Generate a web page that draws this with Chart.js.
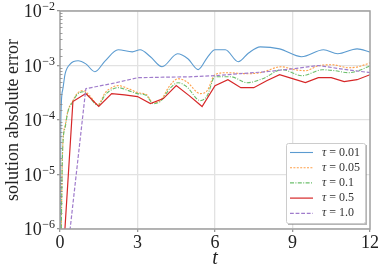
<!DOCTYPE html>
<html>
<head>
<meta charset="utf-8">
<script src="https://cdn.jsdelivr.net/npm/chart.js@4.4.1/dist/chart.umd.min.js"></script>
<style>
  body { margin: 0; background: #fff; }
  canvas { display: block; }
</style>
</head>
<body>
<canvas id="chart--error" width="383" height="273"></canvas>
<script>
"use strict";
(() => {
    // time grid and solution error, one pair of arrays per tau
    const tauLabels = ['0.01', '0.05', '0.1', '0.5', '1.0'];
    const tBlue = [0, 0.03, 0.1, 0.2, 0.4, 0.7, 1.0, 1.35, 1.75, 2.25, 2.8, 3.1, 3.5, 3.95, 4.55, 4.95, 5.35, 5.7, 6.0, 6.4, 6.9, 7.3, 7.75, 8.5, 9.35, 10.2, 10.75, 11.5, 12];
    const errBlue = [1e-8, 8.6e-5, 3.5e-4, 7.1e-4, 1.07e-3, 1.22e-3, 1.07e-3, 7.7e-4, 1.22e-3, 1.94e-3, 1.78e-3, 1.94e-3, 1.45e-3, 9.5e-4, 1.64e-3, 1.33e-3, 8.4e-4, 1.4e-3, 1.94e-3, 1.94e-3, 1.17e-3, 1.7e-3, 2.2e-3, 2.02e-3, 1.45e-3, 1.94e-3, 1.64e-3, 2.02e-3, 1.76e-3];
    const tOrange = [0, 0.1, 0.2, 0.3, 0.5, 0.66, 0.9, 1.15, 1.47, 1.75, 2.0, 2.25, 2.65, 3.0, 3.35, 3.6, 3.88, 4.25, 4.57, 4.9, 5.43, 5.7, 6.0, 6.47, 7.25, 7.75, 8.57, 9.1, 9.5, 10.0, 10.55, 11.16, 11.55, 12];
    const errOrange = [1e-8, 2.8e-5, 7.9e-5, 1.43e-4, 2.27e-4, 3.05e-4, 3.46e-4, 2.8e-4, 1.92e-4, 3.18e-4, 3.92e-4, 4.27e-4, 3.76e-4, 3.18e-4, 2.9e-4, 2.09e-4, 2.27e-4, 4.27e-4, 5.73e-4, 5.05e-4, 3.05e-4, 3.46e-4, 6.8e-4, 7.38e-4, 7.07e-4, 7.38e-4, 9.48e-4, 8.36e-4, 8.02e-4, 9.9e-4, 1.03e-3, 9.1e-4, 9.48e-4, 1.12e-3];
    const tGreen = [0, 0.1, 0.2, 0.3, 0.5, 0.66, 0.9, 1.15, 1.47, 1.75, 2.0, 2.25, 2.65, 3.0, 3.35, 3.6, 3.88, 4.25, 4.57, 4.9, 5.43, 5.7, 6.0, 6.6, 7.25, 7.85, 8.6, 9.38, 10.15, 10.65, 11.16, 11.55, 12];
    const errGreen = [1e-8, 2.6e-5, 7.3e-5, 1.38e-4, 2.18e-4, 2.9e-4, 3.3e-4, 2.58e-4, 1.84e-4, 2.9e-4, 3.61e-4, 3.92e-4, 3.46e-4, 3.05e-4, 2.8e-4, 2.0e-4, 2.18e-4, 3.76e-4, 4.84e-4, 4.09e-4, 2.27e-4, 2.8e-4, 6.23e-4, 6.23e-4, 4.84e-4, 5.73e-4, 8.36e-4, 6.5e-4, 8.36e-4, 8.02e-4, 7.38e-4, 8.02e-4, 9.9e-4];
    const tRed = [0, 0.5, 1.0, 1.5, 2.0, 2.5, 3.0, 3.5, 4.0, 4.5, 5.0, 5.5, 6.0, 6.5, 7.0, 7.5, 8.0, 8.5, 9.0, 9.5, 10.0, 10.5, 11.0, 11.5, 12];
    const errRed = [3.6e-8, 2.18e-4, 3.05e-4, 1.77e-4, 3.05e-4, 2.9e-4, 2.69e-4, 2.0e-4, 2.47e-4, 4.27e-4, 2.8e-4, 1.77e-4, 4.27e-4, 5.49e-4, 3.92e-4, 3.92e-4, 5.26e-4, 6.78e-4, 5.73e-4, 4.84e-4, 5.97e-4, 5.97e-4, 5.05e-4, 5.49e-4, 6.78e-4];
    const tPurple = [0, 1, 2, 3, 4, 5, 6, 7, 8, 9, 10, 11, 12];
    const errPurple = [2.2e-8, 3.76e-4, 4.65e-4, 5.97e-4, 6.1e-4, 6.2e-4, 6.5e-4, 7.1e-4, 7.7e-4, 8.7e-4, 1.0e-3, 8.5e-4, 7.4e-4];
    const xTicks = [0, 3, 6, 9, 12];
    const yDecades = [-6, -5, -4, -3, -2];

    const serif = "'Liberation Serif', 'DejaVu Serif', serif";
    const toPoints = (tValues, errValues) => tValues.map((t, index) => ({ x: t, y: errValues[index] }));
    const isDecade = (value) => Math.abs(Math.log10(value) - Math.round(Math.log10(value))) < 1e-6;

    const seriesList = [
        { t: tBlue, err: errBlue, color: '#5b9bd0', dash: [], width: 1.1, smooth: true },
        { t: tOrange, err: errOrange, color: '#ffa04a', dash: [2, 1.4], width: 1.1, smooth: true },
        { t: tGreen, err: errGreen, color: '#6cbf6c', dash: [4, 1.4, 1, 1.4], width: 1.1, smooth: true },
        { t: tRed, err: errRed, color: '#d62728', dash: [], width: 1.2, smooth: false },
        { t: tPurple, err: errPurple, color: '#a07ccc', dash: [3.8, 1.8], width: 1.2, smooth: false }
    ];
    const datasets = seriesList.map((series, index) => ({
        label: 'τ = ' + tauLabels[index],
        data: toPoints(series.t, series.err),
        borderColor: series.color,
        borderWidth: series.width,
        borderDash: series.dash,
        pointRadius: 0,
        fill: false,
        cubicInterpolationMode: series.smooth ? 'monotone' : 'default',
        tension: 0,
        order: seriesList.length - index
    }));

    // frame, inner minor ticks, 10^k labels and the boxed legend
    const decorPlugin = {
        id: 'decor',
        afterDraw(chart) {
            const ctx = chart.ctx;
            const area = chart.chartArea;
            const yScale = chart.scales.y;
            ctx.save();
            ctx.strokeStyle = '#a0a0a0';
            ctx.lineWidth = 1.5;
            ctx.strokeRect(area.left, area.top, area.right - area.left, area.bottom - area.top);
            ctx.lineWidth = 0.8;
            ctx.strokeStyle = '#888';
            for (const tick of yScale.ticks) {
                if (isDecade(tick.value)) {
                    continue;
                }
                const y = Math.round(yScale.getPixelForValue(tick.value)) + 0.5;
                ctx.beginPath();
                ctx.moveTo(area.left, y);
                ctx.lineTo(area.left + 2.5, y);
                ctx.stroke();
            }
            ctx.fillStyle = '#222';
            ctx.textBaseline = 'alphabetic';
            ctx.textAlign = 'right';
            for (const power of yDecades) {
                const y = yScale.getPixelForValue(Math.pow(10, power));
                const exponent = '\u2212' + Math.abs(power);
                ctx.font = '12px ' + serif;
                const expWidth = ctx.measureText(exponent).width;
                ctx.fillText(exponent, area.left - 5, y - 1);
                ctx.font = '18px ' + serif;
                ctx.fillText('10', area.left - 5 - expWidth - 0.5, y + 6);
            }
            // legend
            const box = { left: 286, top: 143, width: 79, height: 80 };
            ctx.fillStyle = 'rgba(120,120,120,0.55)';
            ctx.fillRect(box.left + 2, box.top + 2, box.width, box.height);
            ctx.fillStyle = '#fff';
            ctx.strokeStyle = '#cccccc';
            ctx.lineWidth = 1;
            ctx.beginPath();
            ctx.roundRect(box.left + 0.5, box.top + 0.5, box.width, box.height, 2);
            ctx.fill();
            ctx.stroke();
            ctx.textAlign = 'left';
            ctx.textBaseline = 'middle';
            chart.data.datasets.forEach((dataset, index) => {
                const y = box.top + 9.5 + index * 15.2;
                ctx.strokeStyle = dataset.borderColor;
                ctx.lineWidth = dataset.borderWidth;
                ctx.setLineDash(dataset.borderDash);
                ctx.beginPath();
                ctx.moveTo(box.left + 4, y);
                ctx.lineTo(box.left + 27, y);
                ctx.stroke();
                ctx.setLineDash([]);
                ctx.fillStyle = '#333';
                ctx.font = 'italic 12px ' + serif;
                ctx.fillText('τ', box.left + 36, y);
                const tauWidth = ctx.measureText('τ').width;
                ctx.font = '12px ' + serif;
                ctx.fillText(' = ' + tauLabels[index], box.left + 36 + tauWidth, y);
            });
            ctx.restore();
        }
    };

    new Chart(document.querySelector('#chart--error'), {
        type: 'line',
        data: { datasets },
        options: {
            responsive: false,
            animation: false,
            devicePixelRatio: 1,
            layout: { padding: { top: 11, right: 13, left: 0, bottom: 0 } },
            plugins: { legend: { display: false }, tooltip: { enabled: false } },
            scales: {
                x: {
                    type: 'linear',
                    min: 0,
                    max: 12,
                    afterBuildTicks: (scale) => {
                        scale.ticks = xTicks.map((value) => ({ value }));
                    },
                    afterFit: (scale) => {
                        scale.height = 44;
                    },
                    ticks: { font: { family: serif, size: 18 }, color: '#222', padding: 0 },
                    grid: {
                        color: (context) => (context.tick && context.tick.value > 0 && context.tick.value < 12 ? '#e2e2e2' : 'rgba(0,0,0,0)'),
                        lineWidth: 1.3,
                        tickLength: 3,
                        tickColor: '#999'
                    },
                    border: { display: false },
                    title: {
                        display: true,
                        text: 't',
                        color: '#222',
                        font: { family: serif, size: 20, style: 'italic' },
                        padding: { top: 0, bottom: 2 }
                    }
                },
                y: {
                    type: 'logarithmic',
                    min: 1e-6,
                    max: 1e-2,
                    afterFit: (scale) => {
                        scale.width = 60;
                    },
                    ticks: { display: false },
                    grid: {
                        color: (context) => (context.tick && isDecade(context.tick.value) ? '#e2e2e2' : 'rgba(0,0,0,0)'),
                        lineWidth: 1.3,
                        tickLength: 3,
                        tickColor: (context) => (context.tick && isDecade(context.tick.value) ? '#999' : 'rgba(0,0,0,0)')
                    },
                    border: { display: false },
                    title: {
                        display: true,
                        text: 'solution absolute error',
                        color: '#222',
                        font: { family: serif, size: 18 },
                        padding: { top: 2, bottom: 0 }
                    }
                }
            }
        },
        plugins: [decorPlugin]
    });
})();
</script>
</body>
</html>
